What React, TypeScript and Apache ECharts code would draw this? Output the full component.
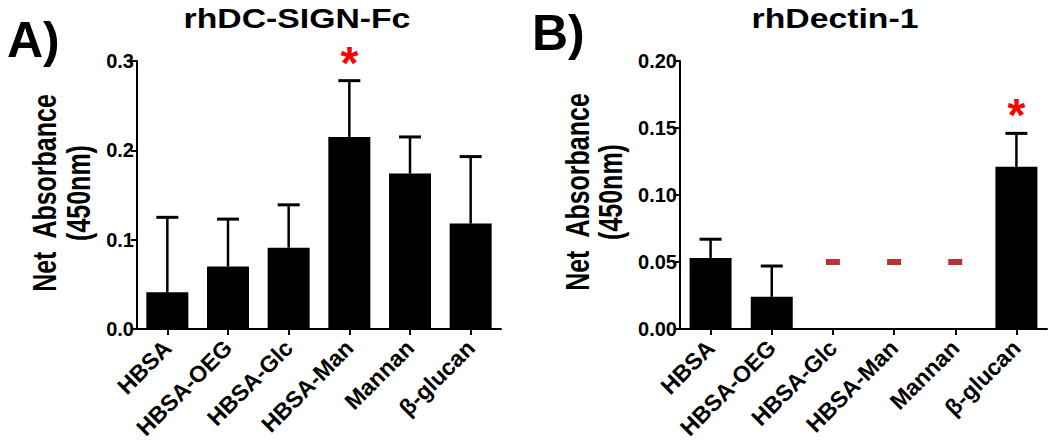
import React, { useEffect, useRef } from "react";
import * as echarts from "echarts";

const categories = ["HBSA", "HBSA-OEG", "HBSA-Glc", "HBSA-Man", "Mannan", "β-glucan"];

// Panel A: rhDC-SIGN-Fc
const dcSignMean = [0.041, 0.07, 0.091, 0.215, 0.174, 0.118];
const dcSignUpper = [0.125, 0.123, 0.139, 0.278, 0.215, 0.193];
const dcSignSig = [false, false, false, true, false, false];

// Panel B: rhDectin-1
const dectinMean = [0.053, 0.024, 0, 0, 0, 0.121];
const dectinUpper = [0.067, 0.047, null, null, null, 0.146];
const dectinSig = [false, false, false, false, false, true];
const dectinDash = [null, null, 0.05, 0.05, 0.05, null];

const panelTitles = ["rhDC-SIGN-Fc", "rhDectin-1"];
const panelLetters = ["A)", "B)"];
const yNameLine1 = "Net  Absorbance";
const yNameLine2 = "(450nm)";

const ARIAL = "'Liberation Sans', Arial, sans-serif";

function errorSeries(idx: number, mean: number[], upper: (number | null)[]) {
  return {
    type: "custom",
    xAxisIndex: idx,
    yAxisIndex: idx,
    data: mean.map((m, i) => [i, m, upper[i]]),
    z: 3,
    renderItem: (params: any, api: any) => {
      const i = api.value(0);
      const m = api.value(1);
      const u = api.value(2);
      if (u == null || isNaN(u)) return null;
      const base = api.coord([i, m]);
      const top = api.coord([i, u]);
      return {
        type: "group",
        children: [
          { type: "line", shape: { x1: top[0], y1: base[1], x2: top[0], y2: top[1] }, style: { stroke: "#000", lineWidth: 2.5 } },
          { type: "line", shape: { x1: top[0] - 11, y1: top[1], x2: top[0] + 11, y2: top[1] }, style: { stroke: "#000", lineWidth: 3 } },
        ],
      };
    },
  };
}

function starSeries(idx: number, upper: (number | null)[], sig: boolean[]) {
  return {
    type: "custom",
    xAxisIndex: idx,
    yAxisIndex: idx,
    data: upper.map((u, i) => [i, sig[i] ? u : null]),
    z: 4,
    renderItem: (params: any, api: any) => {
      const i = api.value(0);
      const u = api.value(1);
      if (u == null || isNaN(u)) return null;
      const p = api.coord([i, u]);
      return {
        type: "text",
        x: p[0],
        y: p[1] - 18,
        style: { text: "*", fill: "#ff0000", font: `bold 46px ${ARIAL}`, textAlign: "center", textVerticalAlign: "middle" },
      };
    },
  };
}

export default function App() {
  const ref = useRef<HTMLDivElement>(null);
  useEffect(() => {
    if (!ref.current) return;
    const chart = echarts.init(ref.current, null, { renderer: "svg" });
    const axisLine = { show: true, lineStyle: { color: "#000", width: 2 } };
    const axisTick = { show: true, length: 6, lineStyle: { color: "#000", width: 2 } };
    const xAxisBase = (gi: number) => ({
      type: "category",
      gridIndex: gi,
      data: categories,
      axisLine,
      axisTick: { ...axisTick, alignWithLabel: true },
      axisLabel: { rotate: 45, interval: 0, margin: 15, color: "#000", fontWeight: "bold", fontSize: 23, fontFamily: ARIAL },
      splitLine: { show: false },
    });
    const yAxisBase = (gi: number, max: number, interval: number, digits: number) => ({
      type: "value",
      gridIndex: gi,
      min: 0,
      max,
      interval,
      axisLine,
      axisTick,
      axisLabel: { margin: 3, color: "#000", fontWeight: "bold", fontSize: 20, fontFamily: ARIAL, formatter: (v: number) => v.toFixed(digits) },
      splitLine: { show: false },
    });
    const yName = (x1: number, x2: number, y: number) => [
      { type: "text", x: x1, y, rotation: Math.PI / 2, scaleY: 1.3, style: { text: yNameLine1, fill: "#000", font: `bold 25px ${ARIAL}`, textAlign: "center", textVerticalAlign: "middle" } },
      { type: "text", x: x2, y, rotation: Math.PI / 2, scaleY: 1.3, style: { text: yNameLine2, fill: "#000", font: `bold 25px ${ARIAL}`, textAlign: "center", textVerticalAlign: "middle" } },
    ];
    chart.setOption({
      animation: false,
      backgroundColor: "#fff",
      grid: [
        { left: 137, top: 61, width: 364, height: 268 },
        { left: 680, top: 61, width: 367, height: 268 },
      ],
      xAxis: [xAxisBase(0), xAxisBase(1)],
      yAxis: [yAxisBase(0, 0.3, 0.1, 1), yAxisBase(1, 0.2, 0.05, 2)],
      graphic: [
        { type: "text", x: 297, y: 18, scaleX: 1.25, style: { text: panelTitles[0], fill: "#000", font: `bold 27px ${ARIAL}`, textAlign: "center", textVerticalAlign: "middle" } },
        { type: "text", x: 835, y: 18, scaleX: 1.25, style: { text: panelTitles[1], fill: "#000", font: `bold 27px ${ARIAL}`, textAlign: "center", textVerticalAlign: "middle" } },
        { type: "text", x: 7, y: 40, style: { text: panelLetters[0], fill: "#000", font: `bold 50px ${ARIAL}`, textAlign: "left", textVerticalAlign: "middle" } },
        { type: "text", x: 532, y: 33, style: { text: panelLetters[1], fill: "#000", font: `bold 50px ${ARIAL}`, textAlign: "left", textVerticalAlign: "middle" } },
        ...yName(45, 79, 193),
        ...yName(578, 611, 192),
      ],
      series: [
        { type: "bar", xAxisIndex: 0, yAxisIndex: 0, data: dcSignMean, barWidth: 42, itemStyle: { color: "#000" }, z: 2 },
        errorSeries(0, dcSignMean, dcSignUpper),
        starSeries(0, dcSignUpper, dcSignSig),
        { type: "bar", xAxisIndex: 1, yAxisIndex: 1, data: dectinMean, barWidth: 42, itemStyle: { color: "#000" }, z: 2 },
        errorSeries(1, dectinMean, dectinUpper),
        starSeries(1, dectinUpper, dectinSig),
        {
          type: "scatter",
          xAxisIndex: 1,
          yAxisIndex: 1,
          data: dectinDash,
          symbol: "rect",
          symbolSize: [14, 6],
          itemStyle: { color: "#a80000" },
          z: 4,
        },
      ],
    });
    return () => chart.dispose();
  }, []);
  return <div ref={ref} style={{ position: "fixed", left: 0, top: 0, width: 1050, height: 445 }} />;
}
